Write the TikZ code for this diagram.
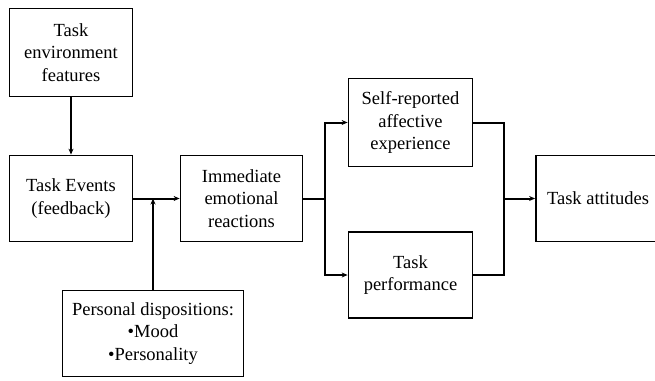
\documentclass[tikz,border=0pt]{standalone}
\usepackage{fontspec}
\setmainfont{Liberation Serif}
\usetikzlibrary{arrows.meta}

\begin{document}
\begin{tikzpicture}[x=1pt,y=-1pt,
	box/.style={draw,line width=1.8pt,align=center,inner sep=2pt,font=\fontsize{18.5}{22.5}\selectfont},
	arr/.style={-{Stealth[length=6pt,width=5pt]},line width=2pt}]
	\useasboundingbox (0,0) rectangle (655,380);

	\node[box,minimum width=123pt,minimum height=88pt] (env) at (71,52.5){Task\\environment\\features};
	\node[box,minimum width=123pt,minimum height=86pt] (events) at (71,198.5){Task Events\\(feedback)};
	\node[box,minimum width=122pt,minimum height=86pt] (immed) at (241.5,198.5){Immediate\\emotional\\reactions};
	\node[box,minimum width=181pt,minimum height=86pt] (pers) at (153,333.5){Personal dispositions:\\•Mood\\•Personality};
	\node[box,minimum width=124pt,minimum height=88pt] (self) at (410.5,122.5){Self-reported\\affective\\experience};
	\node[box,minimum width=124pt,minimum height=86pt] (perf) at (410.5,275){Task\\performance};
	\node[box,minimum width=124pt,minimum height=86pt] (att) at (598,198.5){Task attitudes};

	\coordinate (split) at (325,198.5);
	\coordinate (join) at (504,198.5);

	\draw[arr](env)--(events);
	\draw[arr](events)--(immed);
	\draw[arr](pers.north)--(pers.north |- events.east);
	\draw[line width=2pt](immed.east)--(split);
	\draw[arr](split)|-(self.west);
	\draw[arr](split)|-(perf.west);
	\draw[line width=2pt](self.east)-|(join);
	\draw[line width=2pt](perf.east)-|(join);
	\draw[arr](join)--(att.west);
\end{tikzpicture}
\end{document}
